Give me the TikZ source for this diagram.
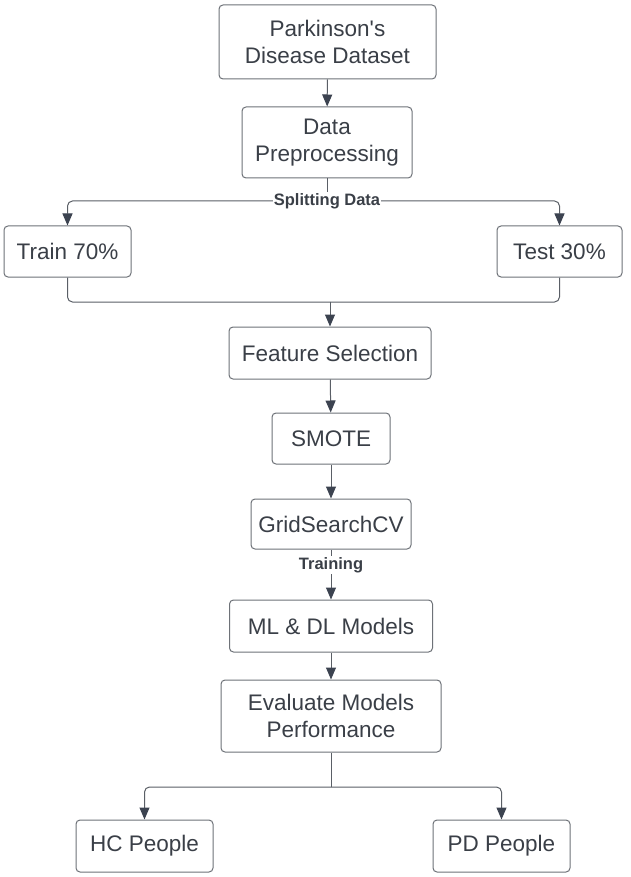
\documentclass[tikz,border=0pt]{standalone}
\usepackage{fontspec}
\setmainfont{Liberation Sans}[Ligatures=TeXOff]
\usetikzlibrary{arrows.meta}
\definecolor{txt}{HTML}{3A3F47}
\definecolor{brd}{HTML}{6E7278}
\definecolor{ln}{HTML}{5A5F66}
\definecolor{tip}{HTML}{3C4350}
\tikzset{
  box/.style={draw=brd, line width=1pt, rounded corners=4pt, text=txt, font=\fontsize{22.5}{27}\selectfont, align=center, inner sep=0pt, anchor=center},
  conn/.style={draw=ln, line width=1pt, rounded corners=5pt},
  arr/.style={conn, -{Triangle[length=12pt,width=10pt,fill=tip,color=tip]}},
  lbl/.style={font=\bfseries\fontsize{16.5}{18}\selectfont, text=txt, fill=white, inner sep=1pt}
}
\begin{document}
\begin{tikzpicture}[x=1pt,y=-1pt]
\useasboundingbox (0,0) rectangle (630,877);
\fill[white] (0,0) rectangle (630,877);
\node[box, minimum width=217pt, minimum height=74pt] (ds) at (327.5,42) {Parkinson's\\Disease Dataset};
\node[box, minimum width=170pt, minimum height=71pt] (pre) at (327,142.5) {Data\\Preprocessing};
\node[box, minimum width=127pt, minimum height=51pt] (train) at (67.5,251.5) {Train 70\%};
\node[box, minimum width=125pt, minimum height=51pt] (test) at (559.5,251.5) {Test 30\%};
\node[box, minimum width=202pt, minimum height=52pt] (fs) at (330,353) {Feature Selection};
\node[box, minimum width=118pt, minimum height=51pt] (smote) at (331,438.5) {SMOTE};
\node[box, minimum width=160pt, minimum height=50pt] (grid) at (331,524) {GridSearchCV};
\node[box, minimum width=203pt, minimum height=52pt] (ml) at (331,626) {ML \& DL Models};
\node[box, minimum width=220pt, minimum height=72pt] (eval) at (331,716) {Evaluate Models\\Performance};
\node[box, minimum width=137pt, minimum height=52pt] (hc) at (144.5,846) {HC People};
\node[box, minimum width=137pt, minimum height=52pt] (pd) at (501.5,846) {PD People};

\coordinate (sp) at (327,201);
\coordinate (mg) at (330,302);
\coordinate (ev) at (331,787);

\draw[arr] (ds) -- (pre);
\draw[conn] (pre.south) -- (sp);
\draw[arr] (sp) -| (train.north);
\draw[arr] (sp) -| (test.north);
\node[lbl] (splbl) at (sp) {Splitting Data};
\draw[conn] (train.south) |- (mg);
\draw[conn] (test.south) |- (mg);
\draw[arr] (mg) -- (fs.north);
\draw[arr] (fs) -- (smote);
\draw[arr] (smote) -- (grid);
\draw[arr] (grid) -- (ml);
\node[lbl] (trlbl) at (331,565) {Training};
\draw[arr] (ml) -- (eval);
\draw[conn] (eval.south) -- (ev);
\draw[arr] (ev) -| (hc.north);
\draw[arr] (ev) -| (pd.north);
\end{tikzpicture}
\end{document}
